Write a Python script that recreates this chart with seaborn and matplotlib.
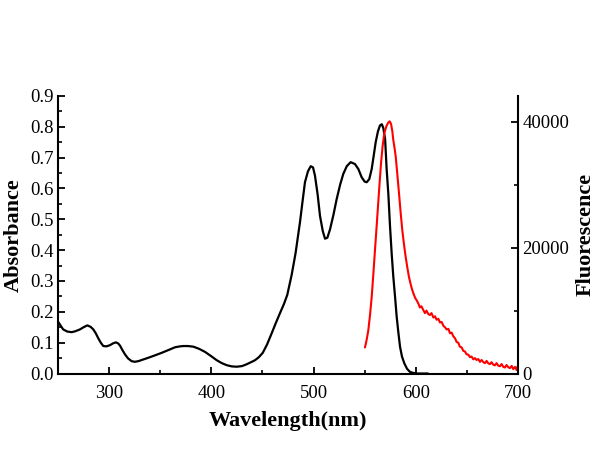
import matplotlib
matplotlib.use("Agg")
import matplotlib.pyplot as plt
import seaborn as sns
import pandas as pd
from matplotlib.ticker import MultipleLocator

# Absorbance (black)
abs_wl = [250, 255, 259, 263.4, 267, 271.5, 275, 278.7, 282, 284.5,
          287, 289.4, 292, 294.3, 297.5, 300.9, 304, 306.7, 309, 310.7,
          313, 315.5, 318.5, 322, 325, 328.6, 333, 338.3, 345, 351.4,
          358, 364.5, 369.4, 372.6, 377, 382.4, 388, 393.8, 399.5, 405.3,
          410, 415, 420, 424.8, 430, 434.6, 439, 442.7, 446.5, 450.3,
          454.5, 459, 463, 467.2, 471, 474.3, 478.6, 482.4, 486.7, 489.5,
          491.6, 494.5, 497.2, 499.5, 501.4, 504, 506.3, 509, 511.2, 513.5,
          516.1, 519.5, 522.6, 526, 529.1, 532.5, 536.3, 540.5, 543.8, 547.1,
          550, 552, 554.5, 556.9, 558.8, 560.8, 563, 565, 566.8, 568.3,
          570, 571.5, 573.2, 574.8, 576.4, 578, 579.7, 581.3, 583, 584.6,
          586.5, 588.8, 591.5, 594.4, 597.5, 601, 606, 612]
abs_val = [0.168, 0.143, 0.136, 0.134, 0.137, 0.143, 0.150, 0.156, 0.151, 0.143,
           0.130, 0.114, 0.099, 0.089, 0.088, 0.092, 0.098, 0.101, 0.097, 0.090,
           0.076, 0.062, 0.049, 0.040, 0.038, 0.040, 0.045, 0.051, 0.059, 0.067,
           0.076, 0.085, 0.088, 0.089, 0.089, 0.087, 0.080, 0.070, 0.057, 0.043,
           0.034, 0.027, 0.023, 0.022, 0.024, 0.030, 0.037, 0.043, 0.053, 0.067,
           0.094, 0.130, 0.163, 0.196, 0.225, 0.255, 0.320, 0.390, 0.490, 0.565,
           0.620, 0.655, 0.672, 0.668, 0.641, 0.580, 0.511, 0.462, 0.437, 0.440,
           0.467, 0.515, 0.565, 0.612, 0.647, 0.672, 0.685, 0.679, 0.663, 0.636,
           0.622, 0.620, 0.630, 0.663, 0.705, 0.750, 0.785, 0.804, 0.808, 0.795,
           0.760, 0.663, 0.580, 0.478, 0.390, 0.315, 0.250, 0.185, 0.132, 0.087,
           0.055, 0.033, 0.015, 0.005, 0.002, 0.0, 0.0, 0.0]

# Fluorescence (red)
fl_wl = [550.3, 552, 553.6, 555.3, 556.9, 558.5, 560.1, 561.5, 562.8, 564.4,
         566, 567.6, 569.2, 571.2, 573.1, 574.5, 575.8, 577, 578, 579.2,
         580.4, 582, 583.6, 585.2, 586.8, 588.5, 590.1, 591.7, 593.3, 595,
         596.6, 598, 599.5, 601, 602.5, 604, 605.5, 607.4, 609, 610.5,
         612.3, 613.8, 615.4, 617.2, 618.8, 620.4, 622.1, 623.7, 625.3, 627,
         628.6, 630.2, 631.9, 633.5, 635.1, 636.8, 638.4, 640, 641.6, 643.2,
         644.9, 646.5, 648.1, 649.7, 651.4, 653, 654.6, 656.3, 657.9, 659.5,
         661.2, 662.8, 664.4, 666.1, 667.7, 669.3, 671, 672.6, 674.2, 675.8,
         677.4, 679, 680.7, 682.3, 684, 685.6, 687.2, 688.8, 690.5, 692.1,
         693.8, 695.4, 697, 698.7, 699.5, 700]
fl_val = [4140, 5400, 6890, 9400, 12200, 15800, 19630, 22900, 26000, 29800,
          33430, 36200, 38200, 39300, 39900, 40100, 39690, 38600, 37140, 35900,
          34480, 31600, 28660, 25600, 22810, 20500, 18560, 16900, 15380, 14200,
          13260, 12600, 12000, 11600, 11140, 10500, 10700, 10080, 9600, 10000,
          9450, 9300, 9600, 8900, 9100, 8550, 8700, 8100, 8200, 7600,
          7350, 7000, 7100, 6400, 6500, 5900, 5600, 5000, 4900, 4250,
          4150, 3600, 3500, 3050, 3000, 2600, 2700, 2250, 2450, 2150,
          2300, 1850, 2150, 1800, 1650, 2000, 1600, 1500, 1800, 1400,
          1300, 1650, 1250, 1150, 1500, 1050, 950, 1350, 1000, 850,
          1200, 700, 1050, 550, 1100, 1250]

xticks = [300, 400, 500, 600, 700]

sns.set_style("ticks")
plt.rcParams['font.family'] = ['Liberation Serif', 'DejaVu Serif']
plt.rcParams['text.color'] = 'black'
plt.rcParams['axes.labelcolor'] = 'black'
plt.rcParams['xtick.color'] = 'black'
plt.rcParams['ytick.color'] = 'black'
plt.rcParams['axes.edgecolor'] = 'black'
plt.rcParams['xtick.direction'] = 'in'
plt.rcParams['ytick.direction'] = 'in'

fig = plt.figure(figsize=(6, 4.5), dpi=100)
ax = fig.add_axes([0.0967, 0.170, 0.7666, 0.617])
ax2 = ax.twinx()

df_a = pd.DataFrame({"wl": abs_wl, "val": abs_val})
df_f = pd.DataFrame({"wl": fl_wl, "val": fl_val})
sns.lineplot(data=df_a, x="wl", y="val", ax=ax, color="black", lw=1.6, sort=False)
sns.lineplot(data=df_f, x="wl", y="val", ax=ax2, color="#ff0000", lw=1.5, sort=False)

ax.set_xlim(250, 700)
ax.set_ylim(0, 0.9)
ax2.set_ylim(0, 44150)
ax.set_xticks(xticks)
ax.xaxis.set_minor_locator(MultipleLocator(50))
ax.set_yticks([i / 10 for i in range(10)])
ax.set_yticklabels([f"{i/10:.1f}" for i in range(10)])
ax.yaxis.set_minor_locator(MultipleLocator(0.05))
ax2.set_yticks([0, 20000, 40000])
ax2.yaxis.set_minor_locator(MultipleLocator(10000))

for a in (ax, ax2):
    a.spines['top'].set_visible(False)
    for s in a.spines.values():
        s.set_linewidth(1.5)
        s.set_color('black')
    a.tick_params(which='major', length=5, width=1.3, labelsize=13.5, pad=3, colors='black')
    a.tick_params(which='minor', length=3, width=1.2, colors='black')
ax.tick_params(axis='x', pad=8)
ax.spines['right'].set_visible(False)
ax2.spines['left'].set_visible(False)
ax2.spines['bottom'].set_visible(False)

ax.set_xlabel("Wavelength(nm)", fontsize=16, fontweight='bold', labelpad=7)
ax.set_ylabel("Absorbance", fontsize=16, fontweight='bold', labelpad=5)
ax2.set_ylabel("Fluorescence", fontsize=16, fontweight='bold', labelpad=5)

fig.savefig("out.png", dpi=100)
